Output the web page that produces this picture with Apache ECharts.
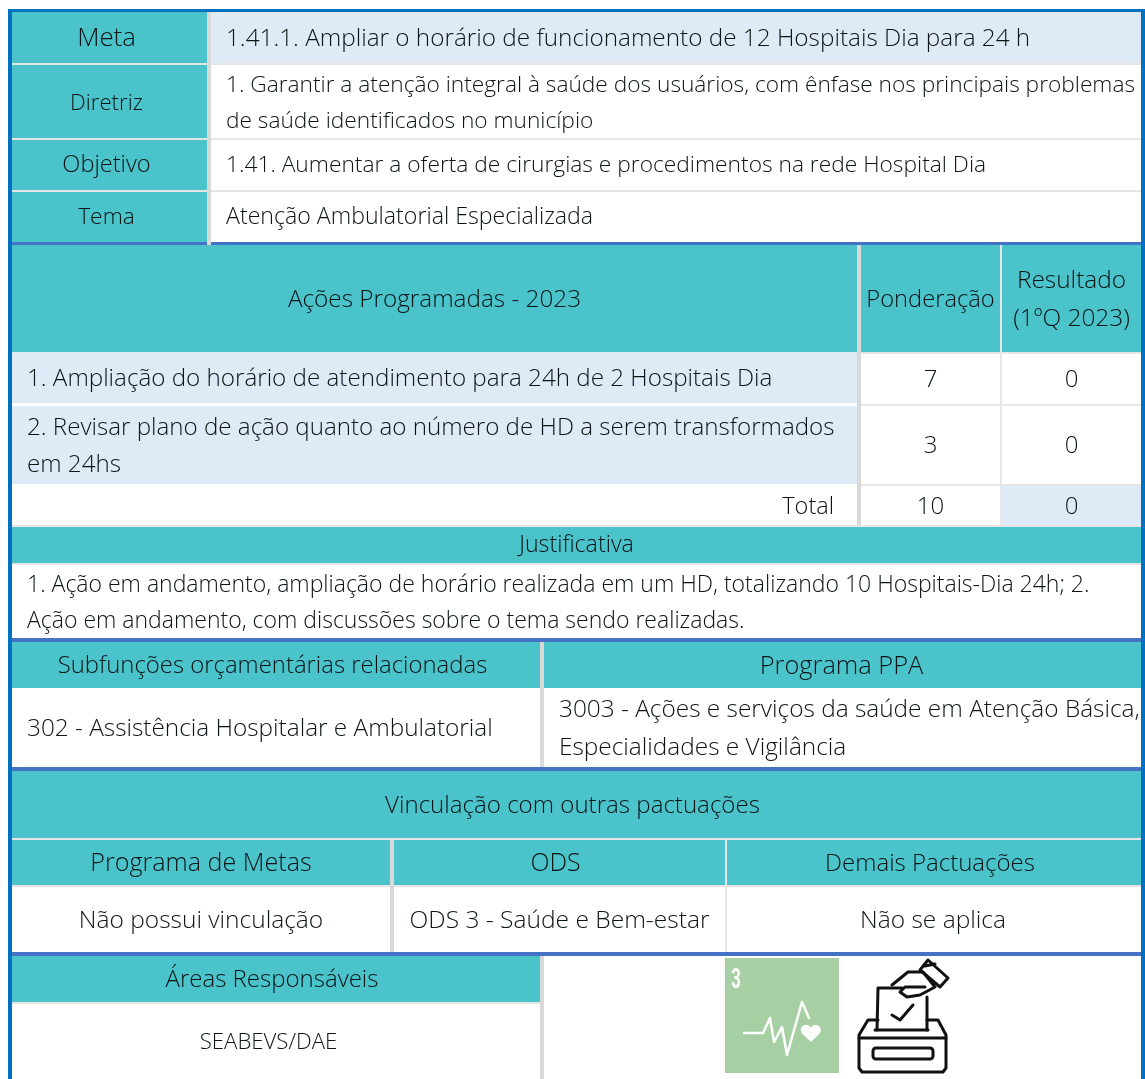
<!DOCTYPE html>
<html><head><meta charset="utf-8">
<style>html,body{margin:0;padding:0;background:#fff}#c{width:1145px;height:1079px}</style>
<script src="https://cdn.jsdelivr.net/npm/echarts@6/dist/echarts.min.js"></script>
</head><body><div id="c"></div>
<script>
const metaLabels = ['Meta','Diretriz','Objetivo','Tema'];
const metaTexts = [
 '1.41.1. Ampliar o horário de funcionamento de 12 Hospitais Dia para 24 h',
 '1. Garantir a atenção integral à saúde dos usuários, com ênfase nos principais problemas\nde saúde identificados no município',
 '1.41. Aumentar a oferta de cirurgias e procedimentos na rede Hospital Dia',
 'Atenção Ambulatorial Especializada'];
const actionHeaders = ['Ações Programadas - 2023','Ponderação','Resultado\n(1ºQ 2023)'];
const actionTexts = ['1. Ampliação do horário de atendimento para 24h de 2 Hospitais Dia',
 '2. Revisar plano de ação quanto ao número de HD a serem transformados\nem 24hs','Total'];
const weights = ['7','3','10'];
const results = ['0','0','0'];
const justTitle = 'Justificativa';
const justText = '1. Ação em andamento, ampliação de horário realizada em um HD, totalizando 10 Hospitais-Dia 24h; 2.\nAção em andamento, com discussões sobre o tema sendo realizadas.';
const budgetHeaders = ['Subfunções orçamentárias relacionadas','Programa PPA'];
const budgetTexts = ['302 - Assistência Hospitalar e Ambulatorial','3003 - Ações e serviços da saúde em Atenção Básica,\nEspecialidades e Vigilância'];
const linkTitle = 'Vinculação com outras pactuações';
const linkHeaders = ['Programa de Metas','ODS','Demais Pactuações'];
const linkTexts = ['Não possui vinculação','ODS 3 - Saúde e Bem-estar','Não se aplica'];
const areaHeader = 'Áreas Responsáveis';
const areaText = 'SEABEVS/DAE';

const TEAL='#4BC3CB', PALE='#DEEAF6', WHITE='#FFFFFF', SEP='#E7E6E6', VSEP='#D9D9D9', BLUE='#4472C4', EDGE='#0070C0', INK='#0c1416';
const cells=[];
function box(x0,y0,x1,y1,fill,text,opt){cells.push(Object.assign({x0,y0,x1,y1,fill,text:text||''},opt||{}));}
const L=(size,lh,dy)=>({align:'left',pad:15,size,lh,dy});
box(8,9,1145,12,EDGE);
box(12,242,1141,245,BLUE);
box(12,638,1141,642,BLUE);
box(12,767,1141,771,BLUE);
box(12,952,1141,956,BLUE);
box(8,9,12,1079,EDGE);
box(1141,9,1145,1079,EDGE);
box(207,12,211,245,VSEP);
box(857,245,861,527,VSEP);
box(540,642,544,767,VSEP);
box(390,840,394,952,VSEP);
box(540,956,544,1079,VSEP);
const rowsA=[[12,63],[65,138],[140,190],[192,242]];
const labelSizes=[25.8,22.2,23.6,22.8], textSizes=[24.3,22.7,22.76,23.15], rowDy=[1.5,2.5,0.5,0.5];
rowsA.forEach((r,i)=>{box(12,r[0],207,r[1],TEAL,metaLabels[i],{size:labelSizes[i],dx:-3,dy:rowDy[i]});
 box(211,r[0],1141,r[1],i===0?PALE:WHITE,metaTexts[i],L(textSizes[i],36,rowDy[i]));
 if(i<3){box(12,r[1],207,r[1]+2,SEP);box(211,r[1],1141,r[1]+2,SEP);}});
box(12,245,857,352,TEAL,actionHeaders[0],{size:24.3});
box(861,245,1000,352,TEAL,actionHeaders[1],{size:23.7});
box(1002,245,1141,352,TEAL,actionHeaders[2],{size:24.4,lh:38});
box(1000,245,1002,352,SEP);
box(861,352,1141,354,SEP);
box(12,352,857,403,PALE,actionTexts[0],L(24.2));
box(12,406,857,484,PALE,actionTexts[1],L(24.15,37));
box(12,486,857,525,WHITE,actionTexts[2],{align:'right',pad:23,size:23.5});
const rowsB=[[354,404],[406,484],[486,525]];
rowsB.forEach((r,i)=>{box(861,r[0],1000,r[1],WHITE,weights[i],{size:24});
 box(1002,r[0],1141,r[1],i===2?PALE:WHITE,results[i],{size:24});
 box(1000,r[0],1002,r[1],SEP);
 box(861,r[1],1141,r[1]+2,SEP);});
box(12,525,1141,527,SEP);
box(12,527,1141,563,TEAL,justTitle,{size:23.2,dy:0.5});
box(12,563,1141,565,SEP);
box(12,565,1141,638,WHITE,justText,L(23,35.5,2));
box(12,642,540,688,TEAL,budgetHeaders[0],{size:23.9,dx:-3.5});
box(544,642,1141,688,TEAL,budgetHeaders[1],{size:25.4,dx:-1});
box(12,689,540,767,WHITE,budgetTexts[0],L(24.35));
box(544,689,1141,767,WHITE,budgetTexts[1],L(24.4,38));
box(12,771,1141,838,TEAL,linkTitle,{size:24.1,dx:-4});
box(12,838,1141,840,SEP);
box(12,840,390,885,TEAL,linkHeaders[0],{size:25.1});
box(394,840,725,885,TEAL,linkHeaders[1],{size:24.9,dx:-4});
box(727,840,1141,885,TEAL,linkHeaders[2],{size:24,dx:-4});
box(725,840,727,952,SEP);
box(12,885,390,887,SEP);box(394,885,725,887,SEP);box(727,885,1141,887,SEP);
box(12,887,390,952,WHITE,linkTexts[0],{size:24.5});
box(394,887,725,952,WHITE,linkTexts[1],{size:24.55});
box(727,887,1141,952,WHITE,linkTexts[2],{size:24.5,dx:-1});
box(12,956,540,1002,TEAL,areaHeader,{size:24,dx:-4});
box(12,1002,540,1004,SEP);
box(12,1004,540,1079,WHITE,areaText,{size:22.2,dx:-7.5});

const FONT='"Open Sans"', WEIGHT=300, LH=36, DY=1.5;
const chart=echarts.init(document.getElementById('c'),null,{renderer:'canvas'});
function renderCell(p,api){
 const c=cells[p.dataIndex];
 const a=api.coord([api.value(0),api.value(1)]), b=api.coord([api.value(2),api.value(3)]);
 const kids=[{type:'rect',shape:{x:a[0],y:a[1],width:b[0]-a[0],height:b[1]-a[1]},style:{fill:c.fill},silent:true}];
 if(c.text){
  const al=c.align||'center', pad=c.pad||0;
  const tx=al==='left'?a[0]+pad:al==='right'?b[0]-pad:(a[0]+b[0])/2+(c.dx||0);
  const dy=c.dy===undefined?DY:c.dy;
  kids.push({type:'text',silent:true,style:{x:tx,y:(a[1]+b[1])/2+dy,text:c.text,fill:INK,align:al,verticalAlign:'middle',
   font:WEIGHT+' '+(c.size||22)+'px '+FONT,lineHeight:c.lh||LH}});
 }
 return {type:'group',children:kids};
}
const pulse=[[744,1033],[763,1033],[770,1018],[774,1042],[782,1027],[787,1055],[802,1002],[809,1018]];
const ink='#111', thin={stroke:ink,lineWidth:3,fill:'none',lineJoin:'round',lineCap:'round'};
const pl=(points)=>({type:'polyline',shape:{points},style:thin,z:5});
const graphic=[
 {type:'rect',shape:{x:725,y:958,width:114,height:115},style:{fill:'#A7CFA4'},z:5},
 {type:'text',x:736,y:981,scaleX:.62,style:{x:0,y:0,text:'3',fill:'#fff',font:'bold 27px Roboto',align:'center',verticalAlign:'middle'},z:6},
 {type:'polyline',shape:{points:pulse},style:{stroke:'#fff',lineWidth:2.5,fill:'none',lineJoin:'round',lineCap:'round'},z:6},
 {type:'circle',shape:{cx:806,cy:1030,r:5.3},style:{fill:'#fff'},z:6},
 {type:'circle',shape:{cx:815.5,cy:1030,r:5.3},style:{fill:'#fff'},z:6},
 {type:'polygon',shape:{points:[[801.5,1033],[820,1033],[811,1042]]},style:{fill:'#fff'},z:6},
 pl([[878,1020],[868,1020],[859,1035],[859,1068],[862,1072],[943,1072],[946,1068],[946,1035],[938,1020],[927,1020]]),
 pl([[859,1038],[946,1038]]),
 {type:'rect',shape:{x:873,y:1048,width:60,height:11,r:3},style:thin,z:5},
 pl([[877,1030],[878,988],[902,988]]),
 pl([[927,997],[927,1030]]),
 pl([[875,1030],[928,1030]]),
 pl([[892,1015],[900,1020],[913,1005]]),
 pl([[892,985],[908,972],[923,972],[935,987],[920,995],[907,997],[900,992],[905,987],[925,987]]),
 {type:'polygon',shape:{points:[[928,960],[948,978],[940,987],[920,970]]},style:thin,z:5},
 pl([[925,966],[935,964]])
];
chart.setOption({
 animation:false,backgroundColor:'#fff',
 grid:{left:0,right:0,top:0,bottom:0},
 xAxis:{type:'value',min:0,max:1145,show:false},
 yAxis:{type:'value',min:0,max:1079,inverse:true,show:false},
 tooltip:{show:false},
 series:[{type:'custom',coordinateSystem:'cartesian2d',clip:false,silent:true,renderItem:renderCell,
  encode:{x:[0,2],y:[1,3]},
  data:cells.map(c=>[c.x0,c.y0,c.x1,c.y1])}],
 graphic
});
</script></body></html>
